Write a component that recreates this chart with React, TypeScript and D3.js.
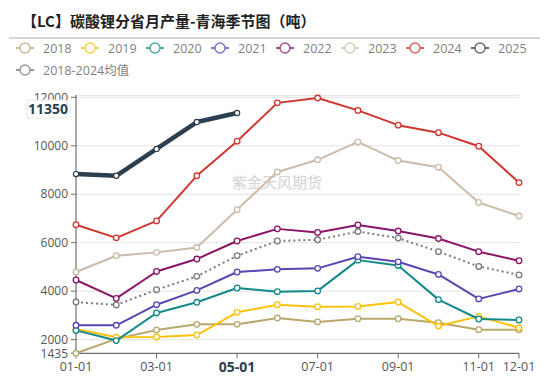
import React from "react";
import * as d3 from "d3";

const months = ["01", "02", "03", "04", "05", "06", "07", "08", "09", "10", "11", "12"];
const xTickIdx = [0, 2, 4, 6, 8, 10, 11];
const yTicks = [1435, 2000, 4000, 6000, 8000, 10000, 12000];

const s2018 = [1435, 2030, 2400, 2630, 2630, 2890, 2730, 2860, 2860, 2700, 2410, 2410];
const s2019 = [2440, 2095, 2110, 2190, 3125, 3440, 3360, 3370, 3550, 2560, 2960, 2490];
const s2020 = [2380, 1960, 3100, 3540, 4130, 3980, 4010, 5280, 5060, 3650, 2850, 2810];
const s2021 = [2590, 2590, 3440, 4030, 4790, 4900, 4940, 5420, 5210, 4690, 3680, 4090];
const s2022 = [4460, 3700, 4810, 5325, 6070, 6570, 6420, 6730, 6480, 6170, 5630, 5255];
const s2023 = [4790, 5460, 5600, 5800, 7360, 8920, 9420, 10160, 9390, 9115, 7660, 7100];
const s2024 = [6740, 6200, 6900, 8760, 10190, 11770, 11970, 11460, 10850, 10540, 9980, 8480];
const s2025 = [8830, 8760, 9870, 10980, 11350];
const sAvg = [3550, 3430, 4060, 4610, 5460, 6070, 6120, 6460, 6190, 5630, 5020, 4670];

const seriesNames = ["2018", "2019", "2020", "2021", "2022", "2023", "2024", "2025", "2018-2024均值"];
const seriesData = [s2018, s2019, s2020, s2021, s2022, s2023, s2024, s2025, sAvg];
const seriesColors = ["#b8a86c", "#fcc20e", "#13898b", "#5a46b2", "#8c1468", "#cbbcaa", "#d0362e", "#2b3f50", "#7a7a7a"];

const FONT = "'Open Sans', 'Noto Sans CJK SC', sans-serif";

export default function App() {
  const W = 550, H = 377;
  const x = d3.scaleLinear().domain([0, 11]).range([76, 519]);
  const y = d3.scaleLinear().domain([1435, 12000]).range([353.3, 97.3]);
  const line = d3.line<number>().x((_, i) => x(i)).y((d) => y(d));

  const drawOrder = [0, 1, 2, 3, 8, 4, 5, 6, 7];
  const legendRow1 = [0, 1, 2, 3, 4, 5, 6, 7];
  const py = 109;

  return (
    <svg width={W} height={H} style={{ position: "absolute", left: 0, top: 0, background: "#fff" }}>
      <rect x={0} y={0} width={W} height={H} fill="#fff" />
      <text x={22} y={27} fontFamily="'Noto Sans CJK SC', sans-serif" fontWeight="bold" fontSize={15} fill="#222">
        【LC】碳酸锂分省月产量-青海季节图（吨）
      </text>
      <line x1={9} x2={540} y1={38} y2={38} stroke="#d4d4d4" strokeWidth={2} />

      {/* legend */}
      {legendRow1.map((si, k) => {
        const lx = 16 + k * 65;
        const ly = 48;
        return (
          <g key={si} opacity={0.75}>
            <line x1={lx} x2={lx + 18} y1={ly} y2={ly} stroke={seriesColors[si]} strokeWidth={2} />
            <circle cx={lx + 9} cy={ly} r={5} fill="#fff" stroke={seriesColors[si]} strokeWidth={1.5} />
            <text x={lx + 27} y={ly + 4.5} fontFamily={FONT} fontSize={12.5} fill="#555">
              {seriesNames[si]}
            </text>
          </g>
        );
      })}
      <g opacity={0.75}>
        <line x1={16} x2={34} y1={70} y2={70} stroke={seriesColors[8]} strokeWidth={2} />
        <circle cx={25} cy={70} r={5} fill="#fff" stroke={seriesColors[8]} strokeWidth={1.5} />
        <text x={43} y={74.5} fontFamily={FONT} fontSize={12.5} fill="#555">
          {seriesNames[8]}
        </text>
      </g>

      {/* grid */}
      {yTicks.filter((t) => t !== 1435).map((t) => (
        <line key={t} x1={76} x2={519} y1={y(t)} y2={y(t)} stroke="#e2e2e2" strokeWidth={1} />
      ))}
      <line x1={76} x2={519} y1={95.3} y2={95.3} stroke="#e2e2e2" strokeWidth={1} />

      {/* watermark */}
      <text x={232} y={188} fontFamily="'Noto Sans CJK SC', sans-serif" fontSize={15} fill="#d2d2d2">
        紫金天风期货
      </text>

      {/* axes */}
      <line x1={76} x2={76} y1={95} y2={353.3} stroke="#6e6e6e" strokeWidth={1.2} />
      <line x1={76} x2={519} y1={353.3} y2={353.3} stroke="#6e6e6e" strokeWidth={1.2} />
      {yTicks.map((t) => (
        <g key={t}>
          <line x1={71} x2={76} y1={y(t)} y2={y(t)} stroke="#6e6e6e" strokeWidth={1} />
          <text x={68} y={y(t) + 4.2} textAnchor="end" fontFamily={FONT} fontSize={12} fill="#555">
            {t}
          </text>
        </g>
      ))}
      {xTickIdx.map((i) => (
        <g key={i}>
          <line x1={x(i)} x2={x(i)} y1={353.3} y2={358.5} stroke="#6e6e6e" strokeWidth={1} />
          {i === 4 ? (
            <text x={x(i)} y={372} textAnchor="middle" fontFamily={FONT} fontSize={14} fontWeight="bold" fill="#2b3f50">
              {months[i]}-01
            </text>
          ) : (
            <text x={x(i)} y={371} textAnchor="middle" fontFamily={FONT} fontSize={12.5} fill="#555">
              {months[i]}-01
            </text>
          )}
        </g>
      ))}

      {/* series */}
      {drawOrder.map((si) => {
        const data = seriesData[si];
        const is25 = si === 7;
        const isAvg = si === 8;
        return (
          <g key={si}>
            <path
              d={line(data) || ""}
              fill="none"
              stroke={seriesColors[si]}
              strokeWidth={is25 ? 4.5 : 2}
              strokeDasharray={isAvg ? "2,3" : undefined}
              strokeLinejoin="round"
            />
            {data.map((v, i) => (
              <circle
                key={i}
                cx={x(i)}
                cy={y(v)}
                r={is25 ? 2.6 : 2.8}
                fill="#fff"
                stroke={seriesColors[si]}
                strokeWidth={is25 ? 1.2 : 1.3}
              />
            ))}
          </g>
        );
      })}

      {/* y axis pointer label */}
      <g>
        <path
          d={`M27,${py - 9} L66,${py - 9} L71,${py} L66,${py + 9} L27,${py + 9} Z`}
          fill="#fff"
          stroke="#e6e6e6"
          strokeWidth={1}
        />
        <text x={48} y={py + 5} textAnchor="middle" fontFamily={FONT} fontSize={14} fontWeight="bold" fill="#2b3f50">
          11350
        </text>
      </g>
    </svg>
  );
}
